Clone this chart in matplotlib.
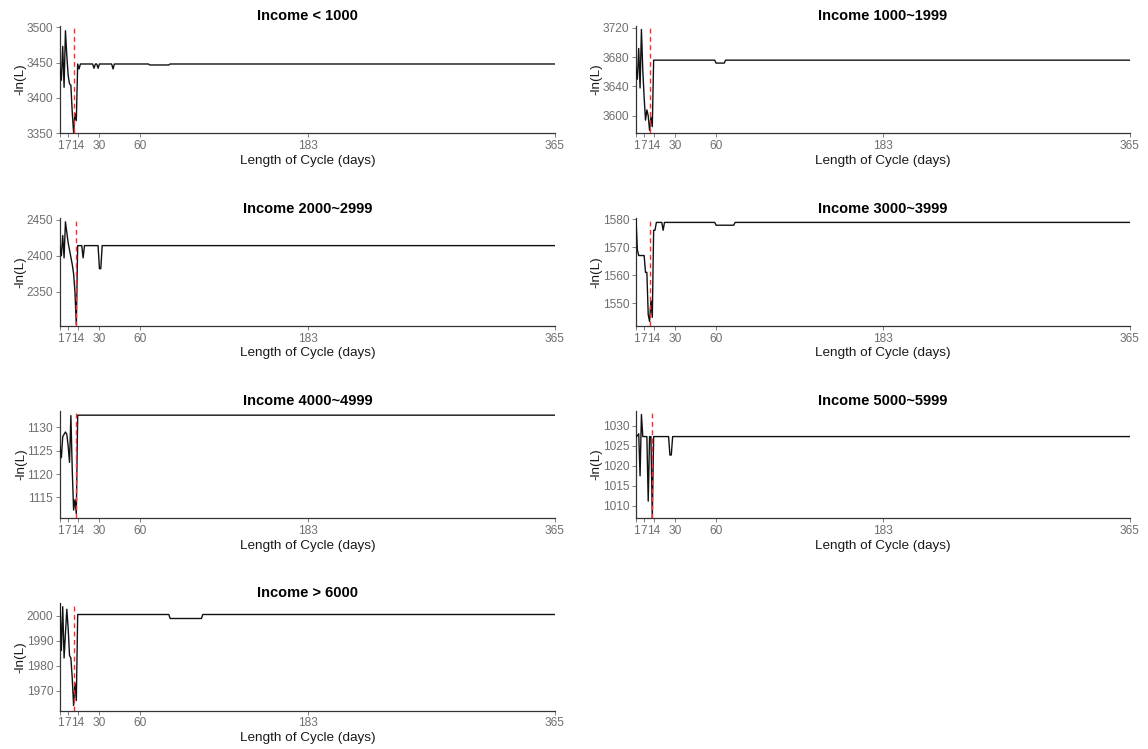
import numpy as np
import matplotlib
matplotlib.use("Agg")
import matplotlib.pyplot as plt

plt.rcParams['font.family'] = ['Liberation Sans', 'DejaVu Sans']

# ---- data (run-length encoded: value, number of consecutive days) ----
titles = ["Income < 1000", "Income 1000~1999", "Income 2000~2999", "Income 3000~3999",
          "Income 4000~4999", "Income 5000~5999", "Income > 6000"]

inc0_vals = [3440, 3425, 3473, 3415, 3495, 3460, 3432, 3420, 3418, 3380, 3351, 3378, 3368,
             3448, 3441, 3448, 3442, 3448, 3442, 3448, 3441, 3448, 3446.6, 3448]
inc0_runs = [1, 1, 1, 1, 1, 1, 1, 1, 1, 1, 1, 1, 1,
             1, 1, 10, 1, 2, 1, 10, 1, 26, 15, 284]

inc1_vals = [3665, 3650, 3692, 3638, 3718, 3662, 3625, 3594, 3608, 3600, 3580, 3598, 3585,
             3676, 3672, 3676]
inc1_runs = [1, 1, 1, 1, 1, 1, 1, 1, 1, 1, 1, 1, 1,
             46, 7, 299]

inc2_vals = [2413, 2400, 2428, 2397, 2447, 2432, 2418, 2408, 2398, 2388, 2375, 2350, 2304,
             2414, 2397, 2414, 2382, 2414]
inc2_runs = [1, 1, 1, 1, 1, 1, 1, 1, 1, 1, 1, 1, 1,
             4, 1, 11, 2, 334]

inc3_vals = [1580, 1569, 1567, 1561, 1546, 1543.5, 1551, 1545, 1576,
             1578.8, 1576, 1578.8, 1577.8, 1578.8]
inc3_runs = [1, 1, 5, 2, 1, 1, 1, 1, 2,
             5, 1, 38, 14, 292]

inc4_vals = [1126, 1123.5, 1128, 1128.5, 1129, 1128.5, 1126, 1122.5, 1132.5, 1121,
             1112.3, 1114.5, 1111.5, 1132.6]
inc4_runs = [1, 1, 1, 1, 1, 1, 1, 1, 1, 1,
             1, 1, 1, 352]

inc5_vals = [1027.3, 1027.5, 1028, 1017.5, 1032.8, 1027.3, 1011.2, 1027.3, 1007,
             1027.3, 1022.7, 1027.3]
inc5_runs = [1, 1, 1, 1, 1, 4, 1, 2, 1,
             12, 2, 338]

inc6_vals = [2005, 1986, 2003.5, 1983, 1993, 2002.5, 1995, 1984, 1983, 1975, 1964, 1973, 1966,
             2000.4, 1998.8, 2000.4]
inc6_runs = [1, 1, 1, 1, 1, 1, 1, 1, 1, 1, 1, 1, 1,
             68, 24, 260]

best_cycle = [11, 11, 13, 11, 13, 13, 11]

y_limits = [(3350, 3502), (3576, 3723), (2303, 2452), (1542, 1580.3),
            (1110.6, 1133.6), (1007, 1033.8), (1962, 2005)]
y_ticks = [[3350, 3400, 3450, 3500], [3600, 3640, 3680, 3720], [2350, 2400, 2450],
           [1550, 1560, 1570, 1580], [1115, 1120, 1125, 1130],
           [1010, 1015, 1020, 1025, 1030], [1970, 1980, 1990, 2000]]
x_ticks = [1, 7, 14, 30, 60, 183, 365]

series = [(inc0_vals, inc0_runs), (inc1_vals, inc1_runs), (inc2_vals, inc2_runs),
          (inc3_vals, inc3_runs), (inc4_vals, inc4_runs), (inc5_vals, inc5_runs),
          (inc6_vals, inc6_runs)]

# ---- figure ----
W, H = 1148, 749
fig = plt.figure(figsize=(W / 100, H / 100), dpi=100)
fig.patch.set_facecolor('white')

col_left = [60, 636]
col_width = [495, 494]
row_bottom = [133.3, 325.7, 518, 710.5]
ax_h = 107.5

for i, ((vals, runs), title) in enumerate(zip(series, titles)):
    r, c = divmod(i, 2)
    left = col_left[c] / W
    bottom = 1 - row_bottom[r] / H
    ax = fig.add_axes([left, bottom, col_width[c] / W, ax_h / H])
    y = np.repeat(np.array(vals, dtype=float), runs)
    days = np.arange(1, len(y) + 1)
    ax.plot(days, y, color='#111111', lw=1.0, zorder=3)
    ax.axvline(best_cycle[i], color='#ff2a2a', lw=1.0, ls=(0, (3.5, 2.5)), zorder=4)
    ax.set_xlim(1, 365)
    ax.set_ylim(*y_limits[i])
    ax.set_xticks(x_ticks)
    ax.set_xticklabels([str(t) for t in x_ticks])
    ax.set_yticks(y_ticks[i])
    for s in ['top', 'right']:
        ax.spines[s].set_visible(False)
    for s in ['left', 'bottom']:
        ax.spines[s].set_color('#333333')
        ax.spines[s].set_linewidth(0.9)
    ax.tick_params(axis='both', colors='#7f7f7f', labelcolor='#6e6e6e', labelsize=8.6,
                   length=3, width=0.7, pad=2)
    ax.set_xlabel("Length of Cycle (days)", fontsize=9.7, color='#1a1a1a', labelpad=2)
    ax.set_ylabel("-ln(L)", fontsize=9.7, color='#1a1a1a', labelpad=0)
    ax.set_title(title, fontsize=10.5, fontweight='bold', pad=4)
    ax.set_facecolor('white')

fig.savefig("out.png", dpi=100, facecolor='white')
